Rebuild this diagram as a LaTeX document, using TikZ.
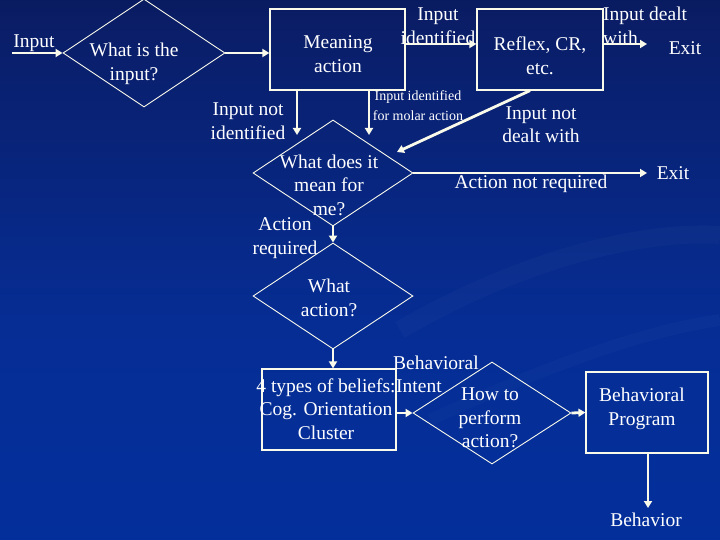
\documentclass[tikz,border=0pt]{standalone}
\usepackage{fontspec}
\setmainfont{Liberation Serif}
\usetikzlibrary{arrows.meta,shapes.geometric}
\definecolor{ln}{RGB}{250,250,235}
\definecolor{bgtop}{RGB}{2,5,24}
\definecolor{bgu}{RGB}{10,30,105}
\definecolor{bgm}{RGB}{6,45,148}
\definecolor{bgbot}{RGB}{0,50,165}
\pgfdeclareverticalshading{bgshade}{100bp}{color(0bp)=(bgbot); color(45bp)=(bgm); color(72bp)=(bgu); color(100bp)=(bgtop)}
\begin{document}
\begin{tikzpicture}[x=1pt,y=-1pt,
  txt/.style={text=white,align=center,inner sep=0pt,font=\fontsize{19.5}{23.5}\selectfont},
  small/.style={text=white,align=center,inner sep=0pt,font=\fontsize{14}{20}\selectfont},
  boxn/.style={draw=ln,line width=1.2pt,rectangle,inner sep=0pt},
  dia/.style={draw=ln,line width=0.9pt,diamond,inner sep=0pt},
  arr/.style={draw=ln,fill=none,line width=2.8pt,-{Triangle[length=7pt,width=8pt]}}]
\useasboundingbox (0,0) rectangle (720,540);
\shade[shading=bgshade] (0,0) rectangle (720,540);
% faint background swirls
\draw[white,opacity=0.025,line width=18pt] (400,330) .. controls (520,260) and (640,230) .. (720,235);
\draw[white,opacity=0.02,line width=12pt] (430,420) .. controls (560,360) and (650,330) .. (720,320);

% shapes
\node[dia,minimum width=162pt,minimum height=108pt] (d1) at (144,53) {};
\node[boxn,minimum width=135pt,minimum height=81pt] (meaning) at (337.5,49.5) {};
\node[boxn,minimum width=126pt,minimum height=81pt] (reflex) at (540,49.5) {};
\node[dia,minimum width=160pt,minimum height=106pt] (d2) at (333,173) {};
\node[dia,minimum width=160pt,minimum height=106pt] (d3) at (333,296) {};
\node[boxn,minimum width=134pt,minimum height=81pt] (beliefs) at (329,409.5) {};
\node[dia,minimum width=158pt,minimum height=102pt] (d4) at (492,413) {};
\node[boxn,minimum width=122pt,minimum height=81pt] (program) at (647,412.5) {};

% texts
\node[txt] (tin) at (34,43) {Input};
\node[txt] (t1) at (134,64) {What is the\\input?};
\node[txt] (tmean) at (338,54) {Meaning\\action};
\node[txt] (tid) at (438,26) {Input\\identified};
\node[txt] (treflex) at (540,56) {Reflex, CR,\\etc.};
\node[txt,align=left,anchor=west] (tdealt) at (603,26) {Input dealt\\with};
\node[txt] (exit1) at (685,48) {Exit};
\node[txt] (tnotid) at (248,121) {Input not\\identified};
\node[small] (tmolar) at (418,106) {Input identified\\for molar action};
\node[txt] (tnotdealt) at (541,124.5) {Input not\\dealt with};
\node[txt] (t2) at (329,185) {What does it\\mean for\\me?};
\node[txt] (tnotreq) at (531,184) {Action not required};
\node[txt] (exit2) at (673,173) {Exit};
\node[txt] (treq) at (285,238) {Action\\required};
\node[txt] (t3) at (329,298) {What\\action?};
\node[txt,align=left,anchor=west] (tintent) at (393,374.5) {Behavioral\\\hspace*{3pt}Intent};
\node[txt] (tbel) at (326,409) {4 types of beliefs:\\Cog. Orientation\\Cluster};
\node[txt] (t4) at (490,418) {How to\\perform\\action?};
\node[txt] (tprog) at (642,409) {Behavioral\\Program};
\node[txt] (tbeh) at (646,520) {Behavior};

% free ends
\coordinate (in0) at (12,53);
\coordinate (e1) at (647,44);
\coordinate (m1) at (297,135);
\coordinate (m2) at (369,135);
\coordinate (rd) at (397,152);
\coordinate (e2) at (647,173);
\coordinate (bh) at (648,508);

% connectors
\draw[arr] (in0) -- (d1.west);
\draw[arr] (d1.east) -- (d1.east -| meaning.west);
\draw[arr] ([yshift=5.5pt]meaning.east) -- ([yshift=5.5pt]reflex.west);
\draw[arr] ([yshift=5.5pt]reflex.east) -- (e1);
\draw[arr] (m1 |- meaning.south) -- (m1);
\draw[arr] (m2 |- meaning.south) -- (m2);
\draw[arr] ([xshift=-10pt]reflex.south) -- (rd);
\draw[arr] (d2.east) -- (e2);
\draw[arr] (d2.south) -- (d3.north);
\draw[arr] (d3.south) -- (d3.south |- beliefs.north);
\draw[arr] (d4.west -| beliefs.east) -- (d4.west);
\draw[arr] (d4.east) -- (program.west);
\draw[arr] (bh |- program.south) -- (bh);
\end{tikzpicture}
\end{document}
